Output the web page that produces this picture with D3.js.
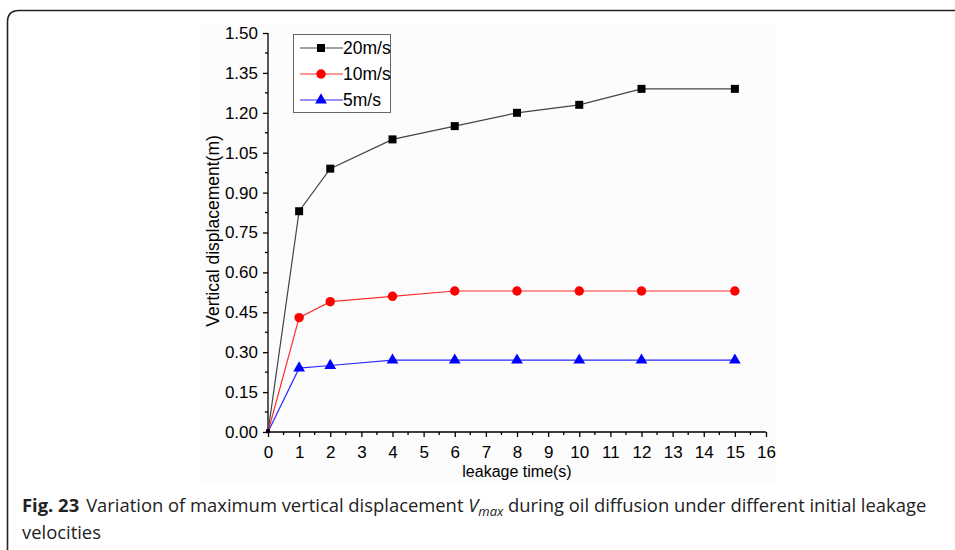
<!DOCTYPE html>
<html><head><meta charset="utf-8">
<script src="https://cdn.jsdelivr.net/npm/d3@7"></script>
<style>body{margin:0;background:#fff;}svg{display:block;}</style>
</head><body>
<script>
const times = [0, 1, 2, 4, 6, 8, 10, 12, 15];
const v20 = [0, 0.83, 0.99, 1.10, 1.15, 1.20, 1.23, 1.29, 1.29];
const v10 = [0, 0.43, 0.49, 0.51, 0.53, 0.53, 0.53, 0.53, 0.53];
const v5  = [0, 0.24, 0.25, 0.27, 0.27, 0.27, 0.27, 0.27, 0.27];
const seriesNames = ["20m/s", "10m/s", "5m/s"];
const xTicks = d3.range(0, 17, 1);
const yTicks = [0, 0.15, 0.30, 0.45, 0.60, 0.75, 0.90, 1.05, 1.20, 1.35, 1.50];

const W = 955, H = 550;
const svg = d3.select("body").append("svg").attr("width", W).attr("height", H);

// outer frame
svg.append("path")
  .attr("d", "M7.5,550 L7.5,22 Q7.5,10.5 19,10.5 L955,10.5")
  .attr("fill", "none").attr("stroke", "#222").attr("stroke-width", 1.6);
// chart image backdrop
svg.append("rect").attr("x", 200).attr("y", 25).attr("width", 576).attr("height", 458).attr("fill", "#fcfcfc");

const x = d3.scaleLinear().domain([0, 16]).range([268, 766]);
const y = d3.scaleLinear().domain([0, 1.5]).range([432, 33]);

const font = "Arial, 'Liberation Sans', sans-serif";

// y axis
const yAx = svg.append("g").attr("transform", "translate(268,0)")
  .call(d3.axisLeft(y).tickValues(yTicks).tickFormat(d3.format(".2f")).tickSize(5).tickPadding(5));
yAx.attr("font-size", null);
yAx.select(".domain").attr("d", "M0," + y(1.5) + "V" + y(0)).attr("stroke-width", 1.3);
yAx.selectAll("line").attr("stroke-width", 1.3);
yAx.selectAll("text").attr("font-family", font).style("font-size", "17px").attr("fill", "#000");
// y minor
svg.append("g").selectAll("line").data(d3.range(0.075, 1.5, 0.15)).join("line")
  .attr("x1", 268).attr("x2", 265).attr("y1", d => y(d)).attr("y2", d => y(d))
  .attr("stroke", "#000").attr("stroke-width", 1.3);

// x axis
const xAx = svg.append("g").attr("transform", "translate(0,432)")
  .call(d3.axisBottom(x).tickValues(xTicks).tickFormat(d3.format("d")).tickSize(5).tickPadding(9));
xAx.select(".domain").attr("d", "M" + x(0) + ",0H" + x(16)).attr("stroke-width", 1.3);
xAx.selectAll("line").attr("stroke-width", 1.3);
xAx.selectAll("text").attr("font-family", font).style("font-size", "17px").attr("fill", "#000");
svg.append("g").selectAll("line").data(d3.range(0.5, 16, 1)).join("line")
  .attr("x1", d => x(d)).attr("x2", d => x(d)).attr("y1", 432).attr("y2", 435)
  .attr("stroke", "#000").attr("stroke-width", 1.3);

// axis titles
svg.append("text").attr("x", 517).attr("y", 477).attr("text-anchor", "middle")
  .attr("font-family", font).attr("font-size", 16).text("leakage time(s)");
svg.append("text").attr("transform", "translate(219," + 231 + ") rotate(-90)")
  .attr("text-anchor", "middle").attr("font-family", font).attr("font-size", 17.5)
  .text("Vertical displacement(m)");

const series = [
  {name: seriesNames[0], vals: v20, color: "#000", line: "#444", shape: d3.symbolSquare, size: 64},
  {name: seriesNames[1], vals: v10, color: "#ff0000", line: "#ff3030", shape: d3.symbolCircle, size: 70},
  {name: seriesNames[2], vals: v5, color: "#0000ff", line: "#2a2aff", shape: d3.symbolTriangle, size: 60}
];

const lineGen = d3.line().x(d => x(d[0])).y(d => y(d[1]));
series.slice().reverse().forEach(s => {
  const pts = times.map((t, i) => [t, s.vals[i]]);
  svg.append("path").datum(pts).attr("d", lineGen).attr("fill", "none")
    .attr("stroke", s.line).attr("stroke-width", 1.2);
  svg.append("g").selectAll("path").data(pts.slice(1)).join("path")
    .attr("d", d3.symbol().type(s.shape).size(s.size))
    .attr("transform", d => "translate(" + x(d[0]) + "," + y(d[1]) + ")")
    .attr("fill", s.color);
  svg.append("path").attr("d", d3.symbol().type(s.shape).size(14))
    .attr("transform", "translate(" + x(0) + "," + (y(0) - 1) + ")").attr("fill", s.color);
});

// legend
const lg = svg.append("g");
lg.append("rect").attr("x", 293.5).attr("y", 34.5).attr("width", 97).attr("height", 78)
  .attr("fill", "#fff").attr("stroke", "#666").attr("stroke-width", 1);
series.forEach((s, i) => {
  const ly = 48 + i * 26;
  lg.append("line").attr("x1", 300).attr("x2", 343).attr("y1", ly).attr("y2", ly)
    .attr("stroke", s.line).attr("stroke-width", 1.2);
  lg.append("path").attr("d", d3.symbol().type(s.shape).size(s.size))
    .attr("transform", "translate(321," + ly + ")").attr("fill", s.color);
  lg.append("text").attr("x", 343).attr("y", ly + 6).attr("font-family", font)
    .attr("font-size", 17.5).text(s.name);
});

// caption
const capFont = "'Open Sans', sans-serif";
const cap = svg.append("text").attr("x", 22).attr("y", 512)
  .attr("font-family", capFont).attr("font-size", 18.4).attr("fill", "#222");
cap.append("tspan").attr("font-weight", "bold").text("Fig. 23");
cap.append("tspan").attr("dx", 7).text("Variation of maximum vertical displacement ");
cap.append("tspan").attr("font-style", "italic").text("V");
cap.append("tspan").attr("font-style", "italic").attr("font-size", 13).attr("dy", 4).text("max");
cap.append("tspan").attr("dy", -4).text(" during oil diffusion under different initial leakage");
svg.append("text").attr("x", 22).attr("y", 539)
  .attr("font-family", capFont).attr("font-size", 18.4).attr("fill", "#222")
  .text("velocities");
</script>
</body></html>
